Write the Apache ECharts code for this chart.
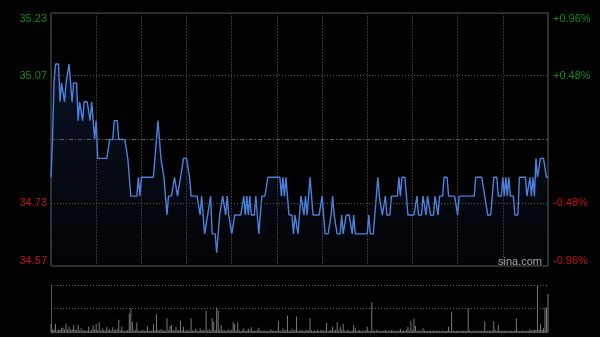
<!DOCTYPE html>
<html>
<head>
<meta charset="utf-8">
<script src="https://cdn.jsdelivr.net/npm/echarts@6/dist/echarts.min.js"></script>
<style>
html,body{margin:0;padding:0;background:#000;}
#c{width:600px;height:337px;}
</style>
</head>
<body>
<div id="c"></div>
<script>
// minute index 0..330 (HK session 09:30-12:00, 13:00-16:00)
const prices = [
34.80,34.90,35.05,35.10,35.10,35.10,35.00,35.05,35.05,35.00,
35.05,35.05,35.10,35.05,35.00,35.05,35.05,35.05,34.95,35.00,
35.00,34.95,35.00,35.00,35.00,35.00,34.95,35.00,34.95,34.90,
34.95,34.85,34.85,34.85,34.85,34.85,34.85,34.85,34.85,34.90,
34.90,34.90,34.95,34.95,34.95,34.90,34.90,34.90,34.90,34.90,
34.90,34.85,34.80,34.75,34.75,34.75,34.75,34.75,34.80,34.75,
34.80,34.80,34.80,34.80,34.80,34.80,34.80,34.80,34.80,34.85,
34.90,34.95,34.90,34.85,34.85,34.80,34.75,34.70,34.75,34.75,
34.75,34.75,34.80,34.80,34.75,34.75,34.80,34.80,34.85,34.85,
34.85,34.85,34.80,34.75,34.75,34.75,34.75,34.75,34.75,34.70,
34.75,34.75,34.65,34.65,34.70,34.70,34.75,34.65,34.65,34.65,
34.60,34.65,34.70,34.70,34.75,34.75,34.70,34.75,34.70,34.70,
34.65,34.65,34.70,34.70,34.70,34.70,34.70,34.70,34.75,34.70,
34.75,34.70,34.75,34.70,34.70,34.70,34.75,34.70,34.65,34.65,
34.75,34.75,34.75,34.75,34.80,34.80,34.80,34.80,34.80,34.80,
34.80,34.80,34.80,34.75,34.80,34.75,34.80,34.75,34.70,34.70,
34.70,34.65,34.70,34.70,34.65,34.70,34.75,34.75,34.70,34.75,
34.70,34.75,34.80,34.75,34.70,34.70,34.70,34.70,34.70,34.70,
34.75,34.70,34.65,34.65,34.65,34.65,34.70,34.75,34.70,34.70,
34.65,34.65,34.65,34.70,34.65,34.65,34.70,34.70,34.70,34.70,
34.65,34.70,34.65,34.65,34.65,34.65,34.65,34.65,34.65,34.65,
34.65,34.70,34.65,34.65,34.65,34.70,34.75,34.80,34.75,34.75,
34.70,34.70,34.75,34.70,34.70,34.70,34.75,34.75,34.75,34.75,
34.75,34.80,34.75,34.80,34.80,34.80,34.75,34.70,34.70,34.70,
34.70,34.70,34.70,34.75,34.70,34.70,34.70,34.75,34.75,34.70,
34.75,34.75,34.70,34.70,34.70,34.75,34.75,34.70,34.75,34.75,
34.75,34.80,34.80,34.80,34.75,34.75,34.75,34.75,34.75,34.75,
34.70,34.75,34.75,34.75,34.75,34.75,34.75,34.75,34.75,34.75,
34.75,34.75,34.80,34.80,34.80,34.80,34.80,34.80,34.75,34.75,
34.70,34.70,34.70,34.75,34.80,34.80,34.80,34.75,34.75,34.75,
34.80,34.75,34.80,34.75,34.80,34.75,34.75,34.75,34.70,34.70,
34.70,34.80,34.80,34.80,34.80,34.80,34.75,34.75,34.80,34.75,
34.80,34.75,34.85,34.80,34.80,34.85,34.85,34.85,34.85,34.80,34.80
];
const volumes = [
17,4,6,17,3,5,4,9,9,6,
18,5,11,4,6,15,4,5,15,3,
8,3,4,2,3,11,3,4,15,6,
17,4,21,3,8,4,3,10,4,6,
3,10,5,4,6,26,3,11,3,2,
3,4,39,50,22,3,4,20,3,2,
3,4,2,3,13,3,2,4,17,3,
38,4,3,6,3,4,2,29,3,13,
15,4,3,11,3,4,24,3,11,2,
3,4,2,29,3,2,7,3,2,8,
3,4,3,45,3,6,3,29,22,4,
52,45,5,15,3,4,2,3,6,3,
4,21,17,3,21,4,2,3,8,2,
3,7,3,10,2,3,2,4,9,2,
3,2,3,2,3,2,6,2,3,2,
3,23,3,2,8,3,4,35,3,2,
7,3,4,33,3,2,4,3,2,3,
4,3,29,3,2,3,2,5,2,3,
5,2,3,19,2,3,4,11,3,4,
21,3,11,4,17,3,2,5,3,2,
3,15,8,2,3,4,2,3,2,4,
11,3,2,63,3,2,4,3,2,3,
2,3,4,2,3,2,4,3,2,3,
2,3,7,2,3,2,4,11,3,24,
4,28,13,3,2,3,2,8,3,2,
2,3,2,2,3,2,2,3,2,2,
3,2,2,3,11,2,43,3,2,2,
3,2,2,3,2,3,2,50,3,2,
2,3,2,2,3,2,3,2,23,3,
2,3,2,3,23,4,2,15,3,2,
3,2,3,2,2,3,2,2,3,29,
3,2,2,3,2,2,3,2,6,3,
4,5,4,100,5,17,5,8,52,52,81
];
const prevClose = 34.90;
// axis spans prevClose ±0.96%, ticks at ±0.48% and ±0.96%
const priceMin = 34.565, priceMax = 35.235;
const priceTicks = [34.565, 34.7325, 35.0675, 35.235];
const priceLabels = ['34.57', '34.73', '35.07', '35.23'];
const pctLabels = ['-0.96%', '-0.48%', '+0.48%', '+0.96%'];
const lastMinute = 330;

const GREEN = '#0d8f0d', RED = '#c41212';
const lblColor = (v) => v > prevClose ? GREEN : RED;
const tickIndex = (v) => {
  let best = 0, d = Infinity;
  priceTicks.forEach((t, i) => { const e = Math.abs(t - v); if (e < d) { d = e; best = i; } });
  return best;
};

const chart = echarts.init(document.getElementById('c'), null, {renderer: 'canvas'});
const priceData = prices.map((v, i) => [i, v]);
const volData = volumes.map((v, i) => [i, v]);

chart.setOption({
  backgroundColor: '#000',
  animation: false,
  grid: [
    {left: 51, right: 52, top: 13, height: 253, show: true, borderColor: '#5a5a5a', borderWidth: 1, backgroundColor: 'transparent'},
    {left: 51, right: 52, top: 285, height: 47}
  ],
  xAxis: [
    {type: 'value', gridIndex: 0, min: 0, max: lastMinute, interval: 30,
     axisLine: {show: false}, axisTick: {show: false}, axisLabel: {show: false},
     splitLine: {show: true, lineStyle: {color: '#333', type: [2, 1], width: 1}}},
    {type: 'value', gridIndex: 1, min: 0, max: lastMinute, interval: 30,
     axisLine: {show: true, lineStyle: {color: '#555'}}, axisTick: {show: false}, axisLabel: {show: false},
     splitLine: {show: false}}
  ],
  yAxis: [
    {type: 'value', gridIndex: 0, min: priceMin, max: priceMax, position: 'left',
     axisLine: {show: false}, axisTick: {show: false, customValues: priceTicks}, splitLine: {show: false},
     axisLabel: {show: true, customValues: priceTicks, margin: 4, fontSize: 11, fontFamily: 'Liberation Sans, Arial, sans-serif',
       verticalAlignMinLabel: 'bottom', verticalAlignMaxLabel: 'top',
       formatter: (v) => priceLabels[tickIndex(+v)],
       color: (v) => lblColor(+v)}},
    {type: 'value', gridIndex: 0, min: priceMin, max: priceMax, position: 'right',
     axisLine: {show: false}, axisTick: {show: false, customValues: priceTicks}, splitLine: {show: false},
     axisLabel: {show: true, customValues: priceTicks, margin: 5, fontSize: 11, fontFamily: 'Liberation Sans, Arial, sans-serif',
       verticalAlignMinLabel: 'bottom', verticalAlignMaxLabel: 'top',
       formatter: (v) => pctLabels[tickIndex(+v)],
       color: (v) => lblColor(+v)}},
    {type: 'value', gridIndex: 1, min: 0, max: 100, interval: 50,
     axisLine: {show: true, lineStyle: {color: '#555'}}, axisTick: {show: false}, axisLabel: {show: false},
     splitLine: {show: true, lineStyle: {color: '#666', type: [1, 2], width: 1}}}
  ],
  series: [
    {type: 'line', xAxisIndex: 0, yAxisIndex: 0, data: priceData, showSymbol: false, symbol: 'none',
     lineStyle: {color: '#4b82de', width: 1.4},
     areaStyle: {origin: 'start', color: new echarts.graphic.LinearGradient(0, 0, 0, 1, [
       {offset: 0, color: 'rgba(45,85,170,0.30)'},
       {offset: 1, color: 'rgba(45,85,170,0.04)'}])},
     markLine: {silent: true, symbol: 'none', label: {show: false},
       data: [
         {yAxis: priceTicks[2], lineStyle: {color: '#555', type: [1, 2], width: 1}},
         {yAxis: priceTicks[1], lineStyle: {color: '#555', type: [1, 2], width: 1}},
         {yAxis: prevClose, lineStyle: {color: '#5c5c5c', type: [4, 2, 1, 2], width: 1}}
       ]}},
    {type: 'bar', xAxisIndex: 1, yAxisIndex: 2, data: volData, barWidth: 1,
     itemStyle: {color: '#7a7a7a'}}
  ],
  graphic: [
    {type: 'text', left: 498, top: 256, silent: true,
     style: {text: 'sina.com', fill: '#a8a8a8', font: '11px "Liberation Sans", Arial, sans-serif'}}
  ]
});
</script>
</body>
</html>
